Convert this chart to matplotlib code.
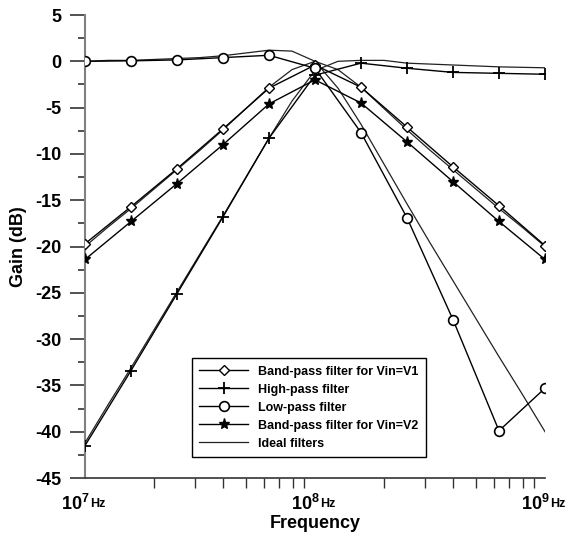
import matplotlib
matplotlib.use("Agg")
import matplotlib.pyplot as plt
from matplotlib.ticker import MultipleLocator, LogLocator, NullFormatter
from matplotlib.lines import Line2D

plt.rcParams['font.family'] = ['Liberation Sans', 'DejaVu Sans']
plt.rcParams['mathtext.fontset'] = 'custom'
plt.rcParams['mathtext.rm'] = 'Liberation Sans'
plt.rcParams['mathtext.bf'] = 'Liberation Sans:bold'
plt.rcParams['axes.unicode_minus'] = False

# Measured points (Hz) - five points per decade
freq = [1.0e7, 1.585e7, 2.512e7, 3.981e7, 6.31e7, 1.0e8,
        1.585e8, 2.512e8, 3.981e8, 6.31e8, 1.0e9]
bp_v1 = [-19.7, -15.7, -11.6, -7.3, -2.9, -0.4, -2.8, -7.1, -11.4, -15.6, -19.9]
hp = [-41.5, -33.4, -25.1, -16.8, -8.3, -1.5, -0.2, -0.75, -1.2, -1.3, -1.4]
lp = [0.0, 0.05, 0.15, 0.4, 0.65, -0.75, -7.7, -16.9, -27.9, -39.9, -35.3]
bp_v2 = [-21.4, -17.3, -13.2, -9.0, -4.6, -2.0, -4.5, -8.7, -13.0, -17.3, -21.4]

# Ideal responses, read every 0.1 decade
freq_ideal = [1.0e7, 1.259e7, 1.585e7, 1.995e7, 2.512e7, 3.162e7, 3.981e7,
              5.012e7, 6.31e7, 7.943e7, 1.0e8, 1.259e8, 1.585e8, 1.995e8,
              2.512e8, 3.162e8, 3.981e8, 5.012e8, 6.31e8, 7.943e8, 1.0e9]
ideal_lp = [0.0, 0.1, 0.1, 0.2, 0.3, 0.4, 0.6, 0.9, 1.2, 1.1, 0.0, -2.9, -6.8,
            -11.1, -15.4, -19.6, -23.7, -27.8, -31.9, -35.9, -40.0]
ideal_bp = [-20.0, -17.9, -15.9, -13.8, -11.7, -9.6, -7.4, -5.1, -2.8, -0.9, 0.0,
            -0.9, -2.8, -5.1, -7.4, -9.6, -11.7, -13.8, -15.9, -17.9, -20.0]
ideal_hp = [-41.2, -37.1, -33.1, -29.0, -24.9, -20.8, -16.7, -12.5, -8.3, -4.3,
            -1.0, 0.0, 0.1, 0.1, -0.2, -0.3, -0.4, -0.5, -0.6, -0.65, -0.7]

labels = ['Band-pass filter for Vin=V1', 'High-pass filter', 'Low-pass filter',
          'Band-pass filter for Vin=V2', 'Ideal filters']

fig = plt.figure(figsize=(5.67, 5.35), dpi=100)
ax = fig.add_axes([85 / 567, 1 - 478 / 535, 460 / 567, 463 / 535])

# ideal curves first (thin)
for ys in (ideal_lp, ideal_bp, ideal_hp):
    ax.plot(freq_ideal, ys, color='#222222', lw=0.9, zorder=2)

ax.plot(freq, bp_v1, color='black', lw=1, marker='D', ms=5, mfc='white',
        mec='black', mew=1, zorder=3)
ax.plot(freq, hp, color='black', lw=1, marker='+', ms=9, mew=1.3, zorder=3)
ax.plot(freq, lp, color='black', lw=1, marker='o', ms=7, mfc='white',
        mec='black', mew=1.2, zorder=3)
ax.plot(freq, bp_v2, color='black', lw=1, marker='*', ms=8, mfc='black',
        mec='black', zorder=3)

ax.set_xscale('log')
ax.set_xlim(1e7, 1e9)
ax.set_ylim(-45, 5)

ax.set_yticks(range(-45, 6, 5))
ax.yaxis.set_minor_locator(MultipleLocator(2.5))
ax.tick_params(axis='y', which='major', direction='out', length=11, width=1.2,
               color='#333333', pad=6, labelsize=13)
ax.tick_params(axis='y', which='minor', direction='out', length=5, width=1.2,
               color='#333333')
for t in ax.get_yticklabels():
    t.set_fontweight('bold')

ax.set_xticks([1e7, 1e8, 1e9])
ax.set_xticklabels(['', '', ''])
ax.xaxis.set_minor_locator(LogLocator(base=10, subs=range(2, 10)))
ax.xaxis.set_minor_formatter(NullFormatter())
ax.tick_params(axis='x', which='major', length=0)
ax.tick_params(axis='x', which='minor', direction='out', length=7, width=1,
               color='#333333')

for e in (7, 8, 9):
    ax.annotate(rf'$\mathbf{{10^{{{e}}}}}$', xy=(10.0 ** e, 0),
                xycoords=('data', 'axes fraction'), xytext=(3.5, -23.3),
                textcoords='offset points', ha='right', va='baseline',
                fontsize=13, fontweight='bold')
    ax.annotate('Hz', xy=(10.0 ** e, 0), xycoords=('data', 'axes fraction'),
                xytext=(3.5, -21), textcoords='offset points', ha='left',
                va='baseline', fontsize=9, fontweight='bold')

for s in ('top', 'right'):
    ax.spines[s].set_visible(False)
ax.spines['left'].set_color('#808080')
ax.spines['left'].set_linewidth(1.5)
ax.spines['bottom'].set_color('#333333')
ax.spines['bottom'].set_linewidth(1.2)

ax.set_ylabel('Gain (dB)', fontsize=13, fontweight='bold', labelpad=6)
ax.set_xlabel('Frequency', fontsize=13, fontweight='bold')
ax.xaxis.set_label_coords(0.5, -0.08)

handles = [
    Line2D([], [], color='black', lw=1, marker='D', ms=5, mfc='white', mec='black'),
    Line2D([], [], color='black', lw=1, marker='+', ms=9, mew=1.3),
    Line2D([], [], color='black', lw=1, marker='o', ms=7, mfc='white', mec='black', mew=1.2),
    Line2D([], [], color='black', lw=1, marker='*', ms=8, mfc='black'),
    Line2D([], [], color='#222222', lw=0.9),
]
leg = ax.legend(handles, labels, loc='lower left', bbox_to_anchor=(0.2326, 0.045),
                borderaxespad=0, fancybox=False, framealpha=1, edgecolor='black',
                prop={'size': 9, 'weight': 'bold'}, handlelength=3.9,
                handletextpad=0.8, labelspacing=0.48, borderpad=0.6)
leg.get_frame().set_linewidth(1)

fig.savefig('out.png', dpi=100)
